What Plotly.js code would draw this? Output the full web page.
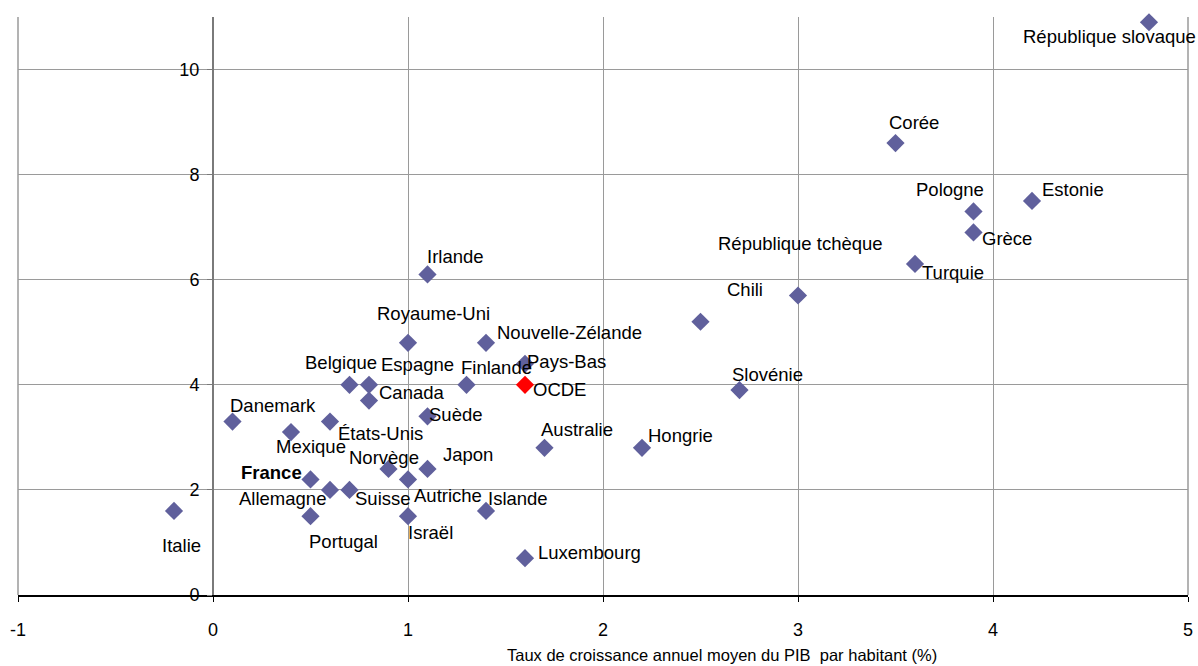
<!DOCTYPE html>
<html>
<head>
<meta charset="utf-8">
<script src="https://cdn.plot.ly/plotly-3.0.1.min.js"></script>
<style>html,body{margin:0;padding:0;background:#fff;} #chart{width:1198px;height:666px;}</style>
</head>
<body>
<div id="chart"></div>
<script>
// ---- Data ----
const countries = ["Italie","Danemark","Mexique","France","Allemagne","Portugal","États-Unis","Belgique","Espagne","Canada","Suisse","Norvège","Royaume-Uni","Irlande","Suède","Japon","Autriche","Israël","Islande","Finlande","Nouvelle-Zélande","Pays-Bas","Australie","Luxembourg","Hongrie","Slovénie","Chili","République tchèque","Corée","Pologne","Grèce","Estonie","Turquie","République slovaque"];
const gdpGrowth = [-0.2,0.1,0.4,0.5,0.6,0.5,0.6,0.7,0.8,0.8,0.7,0.9,1.0,1.1,1.1,1.1,1.0,1.0,1.4,1.3,1.4,1.6,1.7,1.6,2.2,2.7,3.0,2.5,3.5,3.9,3.9,4.2,3.6,4.8];
const yValues  = [1.6,3.3,3.1,2.2,2.0,1.5,3.3,4.0,4.0,3.7,2.0,2.4,4.8,6.1,3.4,2.4,2.2,1.5,1.6,4.0,4.8,4.4,2.8,0.7,2.8,3.9,5.7,5.2,8.6,7.3,6.9,7.5,6.3,10.9];
const oecdName = ["OCDE"];
const oecdX = [1.6];
const oecdY = [4.0];
const xTicks = [-1,0,1,2,3,4,5];
const yTicks = [0,2,4,6,8,10];
const xTitle = "Taux de croissance annuel moyen du PIB&nbsp; par habitant (%)";

// ---- Label placement (pixel offsets of label centre from its point) ----
const labelOffsets = {
  "Italie":[7,35],"Danemark":[40,-16],"Mexique":[20,14],"France":[-39,-7],"Allemagne":[-48,9],
  "Portugal":[33,25],"États-Unis":[50,12],"Belgique":[-9,-22],"Espagne":[48,-20],"Canada":[43,-8],
  "Suisse":[33,9],"Norvège":[-5,-11],"Royaume-Uni":[25,-29],"Irlande":[28,-18],"Suède":[28,-2],
  "Japon":[40,-14],"Autriche":[40,16],"Israël":[22,16],"Islande":[32,-12],"Finlande":[30,-17],
  "Nouvelle-Zélande":[83,-10],"Pays-Bas":[41,-2],"OCDE":[34,5],"Australie":[32,-18],"Luxembourg":[64,-6],
  "Hongrie":[38,-12],"Slovénie":[28,-16],"Chili":[-53,-6],"République tchèque":[100,-78],"Corée":[18,-21],
  "Pologne":[-24,-22],"Grèce":[33,6],"Estonie":[41,-11],"Turquie":[38,9],"République slovaque":[-40,14]
};

const FONT = "Liberation Sans, Arial, sans-serif";
const LBL = 18.5;

const annotations = [];
function addLabels(names, xs, ys){
  names.forEach((n,i)=>{
    const o = labelOffsets[n] || [20,-15];
    annotations.push({
      x: xs[i], y: ys[i], xref:'x', yref:'y', showarrow:false,
      text: n === "France" ? "<b>France</b>" : n,
      xanchor:'center', yanchor:'middle',
      xshift:o[0], yshift:-o[1],
      font:{family:FONT, size:LBL, color:'#000'}
    });
  });
}
addLabels(countries, gdpGrowth, yValues);
addLabels(oecdName, oecdX, oecdY);
annotations.push({
  xref:'paper', yref:'paper', x:(722-18)/1170, y:-(655-595)/578,
  xanchor:'center', yanchor:'middle', showarrow:false,
  text:xTitle, font:{family:FONT, size:16.5, color:'#000'}
});

const traces = [
  {type:'scatter', mode:'markers', x:gdpGrowth, y:yValues, text:countries,
   marker:{symbol:'diamond', size:14, color:'#60609c', line:{width:0}}, cliponaxis:false, hoverinfo:'text'},
  {type:'scatter', mode:'markers', x:oecdX, y:oecdY, text:oecdName,
   marker:{symbol:'diamond', size:14, color:'#ff0000', line:{width:0}}, cliponaxis:false, hoverinfo:'text'}
];

const layout = {
  width:1198, height:666,
  margin:{l:18, r:10, t:17, b:71},
  paper_bgcolor:'#fff', plot_bgcolor:'#fff',
  showlegend:false,
  font:{family:FONT, size:18, color:'#000'},
  xaxis:{
    range:[-1,5], tickvals:xTicks, ticktext:xTicks.map(String),
    showgrid:true, gridcolor:'#9a9a9a', gridwidth:1,
    zeroline:false, showline:true, linecolor:'#000', linewidth:1.5,
    ticks:'outside', ticklen:5, tickcolor:'#000', ticklabelstandoff:13,
    tickfont:{family:FONT, size:18, color:'#000'},
    domain:[0,1], fixedrange:true
  },
  yaxis:{
    range:[0,11], tickvals:yTicks, ticktext:yTicks.map(String),
    showgrid:true, gridcolor:'#9a9a9a', gridwidth:1,
    zeroline:false, showline:true, linecolor:'#7a7a7a', linewidth:2,
    ticks:'outside', ticklen:5, tickcolor:'#7a7a7a', ticklabelstandoff:4,
    tickfont:{family:FONT, size:18, color:'#000'},
    anchor:'free', position:1/6, fixedrange:true
  },
  shapes:[
    {type:'line', xref:'paper', yref:'paper', x0:0, x1:0, y0:0, y1:1, line:{color:'#9a9a9a', width:1.5}},
    {type:'line', xref:'paper', yref:'paper', x0:1, x1:1, y0:0, y1:1, line:{color:'#9a9a9a', width:1.5}}
  ],
  annotations:annotations
};

Plotly.newPlot('chart', traces, layout, {displayModeBar:false, staticPlot:true});
</script>
</body>
</html>
